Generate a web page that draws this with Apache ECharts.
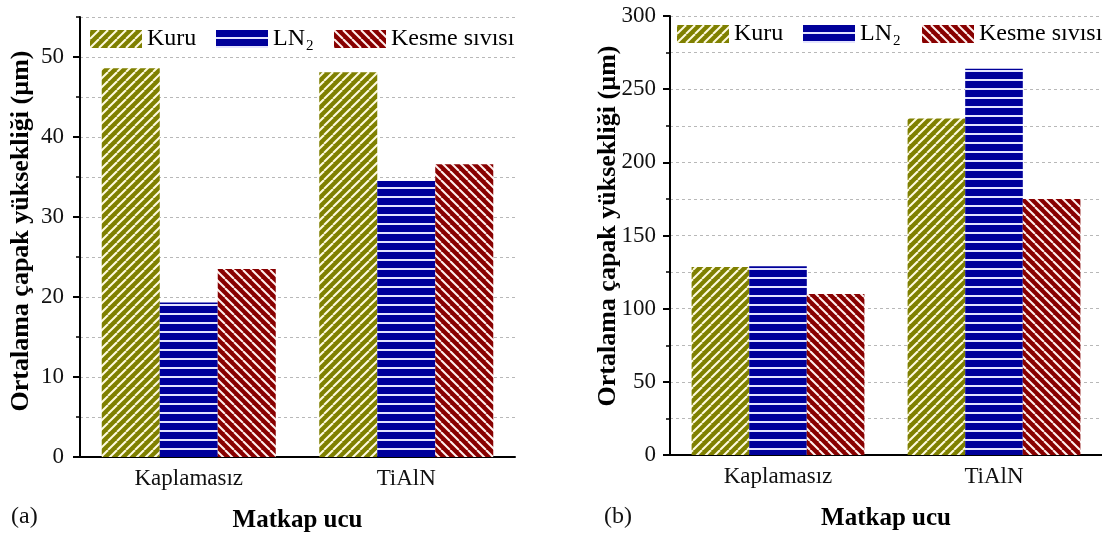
<!DOCTYPE html>
<html>
<head>
<meta charset="utf-8">
<script src="https://cdn.jsdelivr.net/npm/echarts@6/dist/echarts.min.js"></script>
<style>
html,body{margin:0;padding:0;background:#fff;}
#chart{width:1102px;height:536px;}
</style>
</head>
<body>
<div id="chart"></div>
<script>
// ---- data ----
const categories = ['Kaplamasız', 'TiAlN'];
const seriesNames = ['Kuru', 'LN2', 'Kesme sıvısı'];
// (a)
const kuruA = [48.6, 48.1];
const ln2A = [19.3, 34.5];
const kesmeA = [23.5, 36.6];
// (b)
const kuruB = [128.4, 230];
const ln2B = [129, 264];
const kesmeB = [110, 175];
const yTitle = 'Ortalama çapak yüksekliği (µm)';
const xTitle = 'Matkap ucu';
const panelLabels = ['(a)', '(b)'];

// ---- patterns ----
function diagPattern(bg, fg, p, dir) {
  const c = document.createElement('canvas');
  c.width = p; c.height = p;
  const ctx = c.getContext('2d');
  ctx.fillStyle = bg; ctx.fillRect(0, 0, p, p);
  ctx.strokeStyle = fg; ctx.lineWidth = 2;
  for (const k of [-p, 0, p]) {
    ctx.beginPath();
    if (dir === '/') { ctx.moveTo(k, p); ctx.lineTo(k + p, 0); }
    else { ctx.moveTo(k, 0); ctx.lineTo(k + p, p); }
    ctx.stroke();
  }
  return { image: c, repeat: 'repeat' };
}
function hPattern(bg, fg, p) {
  const c = document.createElement('canvas');
  c.width = p; c.height = p;
  const ctx = c.getContext('2d');
  ctx.fillStyle = bg; ctx.fillRect(0, 0, p, p);
  ctx.fillStyle = fg; ctx.fillRect(0, p - 2, p, 2);
  return { image: c, repeat: 'repeat' };
}
const olive = diagPattern('#7f8000', '#fffbe0', 9, '/');
const blue = hPattern('#00009a', '#e4e4ff', 9);
const red = diagPattern('#880000', '#fff0ee', 9, '\\');
const fills = [olive, blue, red];

const FONT = '"Liberation Serif", "Times New Roman", serif';
const dash = { type: [3, 3], color: '#b8b8b8', width: 1 };
const black = '#000';

const chart = echarts.init(document.getElementById('chart'));

function legendAt(name, left, top) {
  return {
    data: [name], left: left, top: top, padding: 0,
    itemWidth: 52, itemHeight: 18, icon: 'rect',
    selectedMode: false,
    formatter: n => n === 'LN2' ? 'LN{sub|2}' : n,
    textStyle: {
      fontFamily: FONT, fontSize: 24, color: black,
      rich: { sub: { fontFamily: FONT, fontSize: 15, color: black, padding: [14, 0, 0, 1] } }
    }
  };
}

function xAx(grid) {
  return {
    gridIndex: grid, type: 'category', data: categories,
    axisLine: { lineStyle: { color: black, width: 2 } },
    axisTick: { alignWithLabel: true, length: 7, lineStyle: { color: black, width: 2 } },
    axisLabel: { fontFamily: FONT, fontSize: 23, color: '#111', margin: 10 },
    name: xTitle, nameLocation: 'middle', nameGap: 51,
    nameTextStyle: { fontFamily: FONT, fontSize: 25, fontWeight: 'bold', color: black }
  };
}

function bars(vals, i, xi, yi) {
  return {
    type: 'bar', name: seriesNames[i], data: vals, xAxisIndex: xi, yAxisIndex: yi,
    barGap: '0%', barCategoryGap: '20%',
    itemStyle: { color: fills[i] }
  };
}

function yTitleText(x, y) {
  return {
    type: 'text', x: x, y: y, rotation: Math.PI / 2,
    style: { text: yTitle, font: 'bold 26px ' + FONT, fill: black, align: 'center', verticalAlign: 'middle' }
  };
}

const option = {
  animation: false,
  backgroundColor: '#fff',
  grid: [
    { left: 80, top: 17, width: 435, height: 440, outerBoundsMode: 'none', containLabel: false },
    { left: 80, top: 57, width: 435, height: 400, outerBoundsMode: 'none', containLabel: false },
    { left: 670, top: 16, width: 432, height: 439, outerBoundsMode: 'none', containLabel: false }
  ],
  legend: [
    legendAt('Kuru', 90, 27), legendAt('LN2', 216, 27), legendAt('Kesme sıvısı', 334, 27),
    legendAt('Kuru', 677, 22), legendAt('LN2', 803, 22), legendAt('Kesme sıvısı', 922, 22)
  ],
  xAxis: [
    xAx(0),
    { gridIndex: 1, type: 'category', data: categories, show: false },
    xAx(2)
  ],
  yAxis: [
    {
      gridIndex: 0, type: 'value', min: 0, max: 55, interval: 5,
      axisLine: { show: true, lineStyle: { color: black, width: 2 } },
      axisTick: { show: true, length: 4, lineStyle: { color: black, width: 1.5 } },
      axisLabel: { show: false },
      splitLine: { show: true, lineStyle: dash }
    },
    {
      gridIndex: 1, type: 'value', min: 0, max: 50, interval: 10,
      axisLine: { show: false },
      axisTick: { show: true, length: 7, lineStyle: { color: black, width: 2 } },
      axisLabel: { fontFamily: FONT, fontSize: 23, color: '#111', margin: 16 },
      splitLine: { show: false }
    },
    {
      gridIndex: 2, type: 'value', min: 0, max: 300, interval: 50,
      axisLine: { show: true, lineStyle: { color: black, width: 2 } },
      axisTick: { show: true, length: 7, lineStyle: { color: black, width: 2 } },
      minorTick: { show: true, splitNumber: 2, length: 4, lineStyle: { color: black, width: 1.5 } },
      minorSplitLine: { show: true, lineStyle: dash },
      splitLine: { show: true, lineStyle: dash },
      axisLabel: { fontFamily: FONT, fontSize: 23, color: '#111', margin: 14 }
    }
  ],
  graphic: [
    yTitleText(21, 231),
    yTitleText(608, 226),
    { type: 'text', left: 11, top: 505, style: { text: panelLabels[0], font: '24px ' + FONT, fill: '#111' } },
    { type: 'text', left: 604, top: 505, style: { text: panelLabels[1], font: '24px ' + FONT, fill: '#111' } }
  ],
  series: [
    bars(kuruA, 0, 0, 0), bars(ln2A, 1, 0, 0), bars(kesmeA, 2, 0, 0),
    bars(kuruB, 0, 2, 2), bars(ln2B, 1, 2, 2), bars(kesmeB, 2, 2, 2)
  ]
};
chart.setOption(option);
</script>
</body>
</html>
